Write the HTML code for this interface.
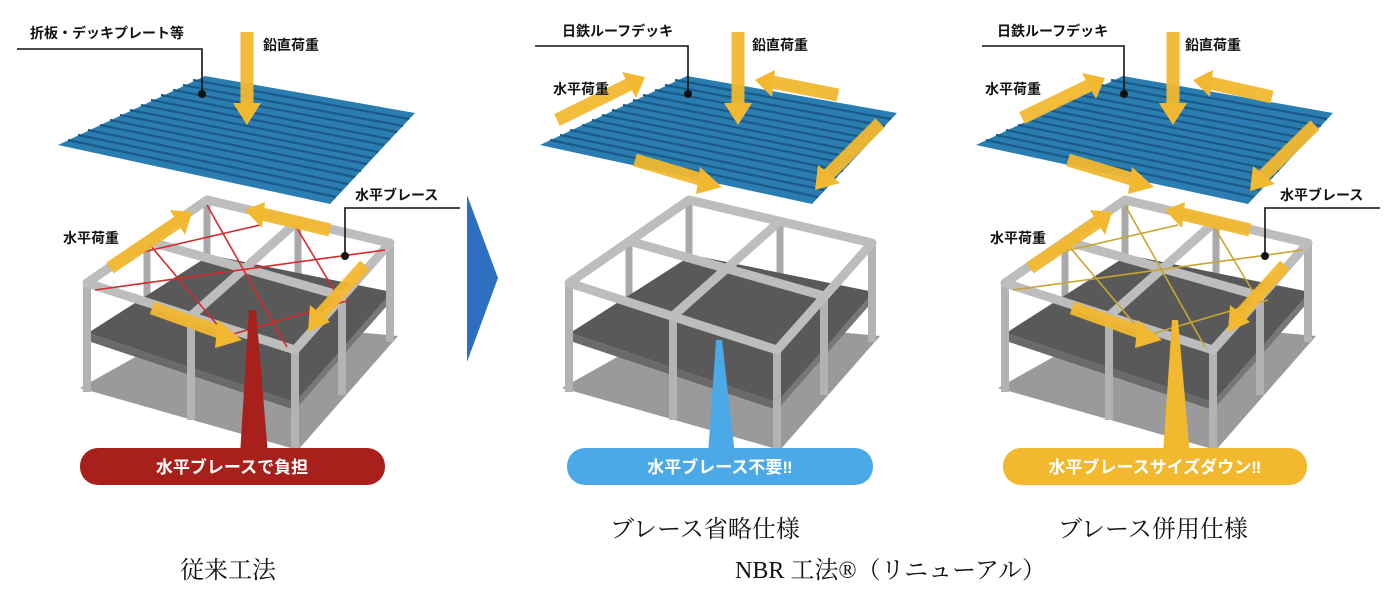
<!DOCTYPE html>
<html><head><meta charset="utf-8">
<style>
html,body{margin:0;padding:0;background:#fff;}
svg{display:block;}
.lb{font-family:"Liberation Sans","Noto Sans CJK JP",sans-serif;font-weight:bold;font-size:14px;fill:#111;}
.pl{font-family:"Liberation Sans","Noto Sans CJK JP",sans-serif;font-weight:bold;font-size:17px;fill:#fff;}
.cap{font-family:"Liberation Serif","Noto Serif CJK SC",serif;font-size:24px;fill:#111;}
</style></head>
<body>
<svg width="1400" height="600" viewBox="0 0 1400 600" xmlns="http://www.w3.org/2000/svg">
<defs>
<g id="deck">
  <polygon points="58,145 205,76 415,113 330,204" fill="#2a7db0"/>
  <g stroke="#1a5a88" stroke-width="2.2">
    <line x1="68" y1="140" x2="336" y2="197"/><line x1="78" y1="135" x2="342" y2="190"/>
    <line x1="88" y1="130" x2="348" y2="184"/><line x1="100" y1="125" x2="355" y2="177"/>
    <line x1="110" y1="120" x2="361" y2="171"/><line x1="120" y1="115" x2="367" y2="164"/>
    <line x1="130" y1="110" x2="372" y2="158"/><line x1="141" y1="105" x2="378" y2="152"/>
    <line x1="151" y1="100" x2="384" y2="145"/><line x1="161" y1="95" x2="390" y2="139"/>
    <line x1="173" y1="90" x2="397" y2="132"/><line x1="183" y1="85" x2="403" y2="126"/>
    <line x1="193" y1="80" x2="409" y2="119"/>
  </g>
</g>
<g id="frame">
  <polygon points="80,388 205,318 398,336 298,450" fill="#9a9a9a"/>
  <g stroke="#a9a9a9" stroke-width="7">
    <line x1="207" y1="200" x2="207" y2="300"/><line x1="298" y1="221" x2="298" y2="318"/>
    <line x1="147" y1="241" x2="147" y2="340"/><line x1="245" y1="268" x2="245" y2="365"/>
  </g>
  <polygon points="88,333 210,255 392,292 295,402" fill="#595959"/>
  <polygon points="88,333 295,402 295,410 88,341" fill="#6a6a6a"/>
  <polygon points="295,402 392,292 392,300 295,410" fill="#777"/>
  <g stroke="#b3b3b3" stroke-width="8">
    <line x1="87" y1="283" x2="87" y2="392"/><line x1="295" y1="350" x2="295" y2="450"/>
    <line x1="390" y1="243" x2="390" y2="342"/><line x1="191" y1="316" x2="191" y2="420"/>
    <line x1="342" y1="296" x2="342" y2="395"/>
  </g>
  <g stroke="#bdbdbd" stroke-width="9" fill="none" stroke-linejoin="round">
    <polygon points="87,283 207,200 390,243 295,350"/>
    <line x1="191" y1="316" x2="298" y2="221"/><line x1="147" y1="241" x2="342" y2="296"/>
  </g>
</g>
<g id="braces" fill="none" stroke-width="1.6">
  <line x1="95" y1="290" x2="385" y2="250"/><line x1="207" y1="205" x2="287" y2="347"/>
  <line x1="150" y1="245" x2="230" y2="340"/><line x1="295" y1="225" x2="340" y2="300"/>
  <line x1="130" y1="255" x2="260" y2="225"/><line x1="230" y1="335" x2="350" y2="300"/>
</g>
</defs>

<use href="#deck"/>
<use href="#frame"/>
<use href="#braces" stroke="#d42a2a"/>
<use href="#deck" transform="translate(482,0)"/>
<use href="#frame" transform="translate(482,0)"/>
<use href="#deck" transform="translate(918,0)"/>
<use href="#frame" transform="translate(918,0)"/>
<use href="#braces" stroke="#c9a530" transform="translate(918,0)"/>

<g stroke="#f2b830" stroke-width="13" fill="none" opacity="0.95">
  <line x1="247" y1="32" x2="247" y2="105"/>
  <line x1="110" y1="268" x2="178" y2="222"/>
  <line x1="330" y1="230" x2="262" y2="214"/>
  <line x1="152" y1="308" x2="222" y2="333"/>
  <line x1="365" y1="265" x2="320" y2="315"/>
  <line x1="738" y1="32" x2="738" y2="105"/>
  <line x1="557" y1="120" x2="630" y2="84"/>
  <line x1="838" y1="95" x2="772" y2="82"/>
  <line x1="635" y1="160" x2="703" y2="180"/>
  <line x1="880" y1="123" x2="828" y2="175"/>
  <line x1="1173" y1="32" x2="1173" y2="105"/>
  <line x1="1022" y1="118" x2="1090" y2="85"/>
  <line x1="1272" y1="97" x2="1210" y2="83"/>
  <line x1="1068" y1="160" x2="1135" y2="180"/>
  <line x1="1315" y1="125" x2="1263" y2="176"/>
  <line x1="1030" y1="268" x2="1098" y2="222"/>
  <line x1="1250" y1="230" x2="1182" y2="214"/>
  <line x1="1072" y1="308" x2="1142" y2="333"/>
  <line x1="1285" y1="265" x2="1240" y2="315"/>
</g>
<g fill="#f2b830">
  <polygon points="233,103 261,103 247,125"/>
  <polygon points="170,210 192,212 185,235"/>
  <polygon points="265,202 245,210 262,228"/>
  <polygon points="218,320 242,340 215,348"/>
  <polygon points="310,305 308,332 330,322"/>
  <polygon points="724,103 752,103 738,125"/>
  <polygon points="622,72 645,77 636,98"/>
  <polygon points="775,70 755,80 772,97"/>
  <polygon points="700,167 722,187 696,194"/>
  <polygon points="818,165 815,190 840,183"/>
  <polygon points="1159,103 1187,103 1173,125"/>
  <polygon points="1082,73 1105,78 1096,99"/>
  <polygon points="1213,70 1193,80 1210,97"/>
  <polygon points="1132,167 1154,187 1128,194"/>
  <polygon points="1253,166 1250,191 1275,184"/>
  <polygon points="1090,210 1112,212 1105,235"/>
  <polygon points="1185,202 1165,210 1182,228"/>
  <polygon points="1138,320 1162,340 1135,348"/>
  <polygon points="1230,305 1228,332 1250,322"/>
</g>

<g stroke="#111" stroke-width="1.6" fill="none">
  <polyline points="17,49 202,49 202,92"/>
  <polyline points="460,208 345,208 345,254"/>
  <polyline points="535,46 688,46 688,92"/>
  <polyline points="982,46 1124,46 1124,92"/>
  <polyline points="1380,208 1265,208 1265,254"/>
</g>
<g fill="#111">
  <circle cx="202" cy="94" r="4"/><circle cx="345" cy="256" r="4"/>
  <circle cx="688" cy="94" r="4"/><circle cx="1124" cy="94" r="4"/><circle cx="1265" cy="256" r="4"/>
</g>

<text class="lb" x="30" y="38" font-size="13">折板・デッキプレート等</text>
<text class="lb" x="263" y="50">鉛直荷重</text>
<text class="lb" x="355" y="200">水平ブレース</text>
<text class="lb" x="63" y="243">水平荷重</text>
<text class="lb" x="562" y="36" font-size="13">日鉄ルーフデッキ</text>
<text class="lb" x="752" y="50">鉛直荷重</text>
<text class="lb" x="553" y="94">水平荷重</text>
<text class="lb" x="997" y="36" font-size="13">日鉄ルーフデッキ</text>
<text class="lb" x="1185" y="50">鉛直荷重</text>
<text class="lb" x="985" y="94">水平荷重</text>
<text class="lb" x="1280" y="200">水平ブレース</text>
<text class="lb" x="990" y="243">水平荷重</text>

<polygon points="467,195 498,278 467,362" fill="#2f6fc0"/>

<polygon points="249,310 256,310 268,455 240,455" fill="#a8201b"/>
<rect x="80" y="448" width="305" height="37" rx="18" fill="#a8201b"/>
<text class="pl" x="232" y="473" text-anchor="middle">水平ブレースで負担</text>

<polygon points="716,340 722,340 735,455 708,455" fill="#4aa9e6"/>
<rect x="567" y="448" width="306" height="37" rx="18" fill="#4aa9e6"/>
<text class="pl" x="720" y="473" text-anchor="middle">水平ブレース不要‼</text>

<polygon points="1172,320 1178,320 1190,455 1163,455" fill="#f2b830"/>
<rect x="1003" y="448" width="304" height="37" rx="18" fill="#f2b830"/>
<text class="pl" x="1155" y="473" text-anchor="middle">水平ブレースサイズダウン‼</text>

<text class="cap" x="610" y="537">ブレース省略仕様</text>
<text class="cap" x="1058" y="537">ブレース併用仕様</text>
<text class="cap" x="180" y="578">従来工法</text>
<text class="cap" x="735" y="578">NBR 工法®（リニューアル）</text>
</svg>
</body></html>
